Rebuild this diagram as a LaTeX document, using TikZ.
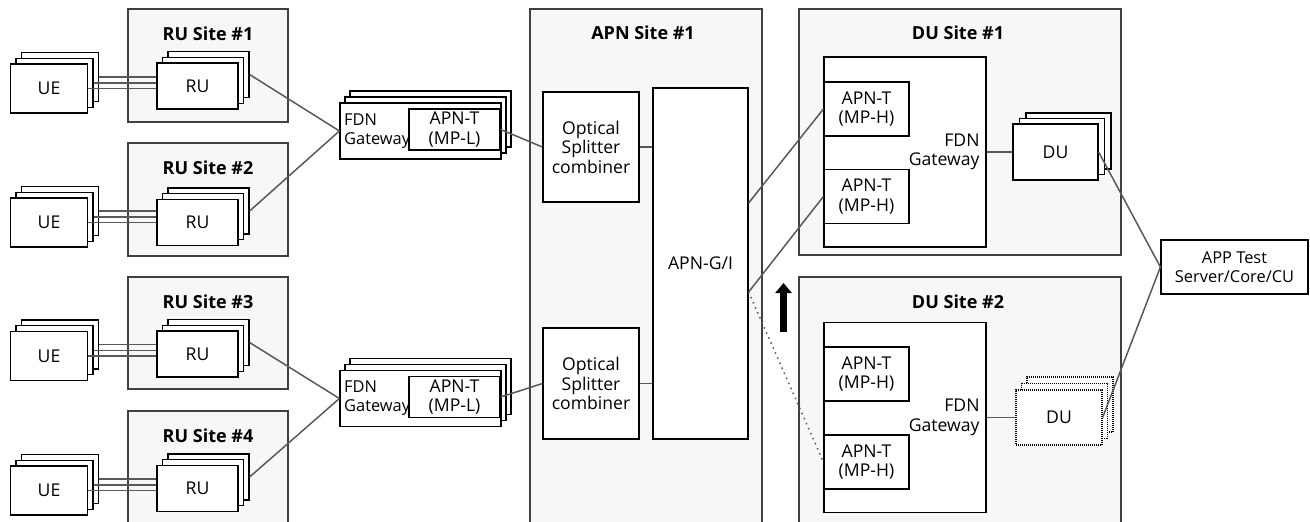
\documentclass[tikz,border=0pt]{standalone}
\usepackage{fontspec}
\setmainfont{Open Sans}
\usetikzlibrary{arrows.meta}

\begin{document}
\begin{tikzpicture}[x=0.5pt,y=-0.5pt,font=\fontsize{8.8}{9.8}\selectfont,
  site/.style={draw=black!75,fill=gray!6,line width=0.6pt},
  box/.style={draw,fill=white,line width=0.6pt,align=center,inner sep=0pt},
  dbox/.style={box,dash pattern=on 0.5pt off 0.5pt},
  ttl/.style={font=\fontsize{9}{10}\selectfont\bfseries},
  link/.style={draw=black!65,line width=0.75pt}]
  \clip (0,0) rectangle (1310,521);
  \foreach \i/\t/\b in {1/9/122,2/143/256,3/277/389,4/411/530} {
    \draw[site] (128,\t) rectangle (288,\b);
    \node[ttl] (rusite\i) at (208,\t+25) {RU Site \#\i};
  }
  \draw[site] (530,9) rectangle (762,530);
  \node[ttl] (apnsite) at (643,33) {APN Site \#1};
  \draw[site] (799,9) rectangle (1121,255);
  \node[ttl] (dusite1) at (958,33) {DU Site \#1};
  \draw[site] (799,277) rectangle (1121,530);
  \node[ttl] (dusite2) at (958,302) {DU Site \#2};

  \foreach \i/\y/\r in {1/88.5/86,2/222.5/222.5,3/356/354,4/490.5/488.5} {
    \node[box,minimum width=38.5pt,minimum height=24.5pt] (ue\i-c) at (60,\y-11.5) {};
    \node[box,minimum width=38.5pt,minimum height=24.5pt] (ue\i-b) at (54.5,\y-5.75) {};
    \node[box,minimum width=38.5pt,minimum height=24.5pt] (ue\i) at (49,\y) {UE};
    \node[box,minimum width=40.5pt,minimum height=23pt] (ru\i-c) at (208.5,\r-11.5) {};
    \node[box,minimum width=40.5pt,minimum height=23pt] (ru\i-b) at (203,\r-5.75) {};
    \node[box,minimum width=40.5pt,minimum height=23pt] (ru\i) at (197.5,\r) {RU};
    \foreach \l in {ue\i-c,ue\i-b,ue\i} \draw[link] (\l.east) -- (\l.east -| ru\i.west);
  }

  \foreach \i/\y in {1/131,2/398.5} {
    \node[box,minimum width=80.5pt,minimum height=28pt] (gw\i-c) at (430.5,\y-12) {};
    \node[box,minimum width=80.5pt,minimum height=28pt] (gw\i-b) at (425.5,\y-6) {};
    \node[box,minimum width=80.5pt,minimum height=28pt] (gw\i) at (420.5,\y) {};
    \node[anchor=west,align=left,inner sep=2.2pt,font=\fontsize{8.2}{9.6}\selectfont] (gwtext\i) at (gw\i.west) {FDN\\Gateway};
    \node[box,minimum width=45.5pt,minimum height=20.5pt] (mpl\i) at (454.5,\y-1.5) {APN-T\\(MP-L)};
  }
  \draw[link] (ru1-c.east) -- (gw1.west);
  \draw[link] (ru2-c.east) -- (gw1.west);
  \draw[link] (ru3-c.east) -- (gw2.west);
  \draw[link] (ru4-c.east) -- (gw2.west);

  \node[box,minimum width=48pt,minimum height=55pt] (spl1) at (591,147) {Optical\\Splitter\\combiner};
  \node[box,minimum width=48pt,minimum height=55.5pt] (spl2) at (591,383.5) {Optical\\Splitter\\combiner};
  \node[box,minimum width=47.5pt,minimum height=175.5pt] (apng) at (700.5,263.5) {APN-G/I};
  \draw[link] (mpl1.east) -- (spl1.west);
  \draw[link] (mpl2.east) -- (spl2.west);
  \draw[link] (spl1.east) -- (spl1.east -| apng.west);
  \draw[link] (spl2.east) -- (spl2.east -| apng.west);

  \foreach \i/\y in {1/152,2/417.5} {
    \node[box,minimum width=81pt,minimum height=95pt] (fdn\i) at (905,\y) {};
    \node[anchor=east,align=right] (fdntext\i) at (fdn\i.east) {FDN\\Gateway};
  }
  \foreach \i/\y in {1/109,2/196.5,3/374,4/462}
    \node[box,minimum width=42.5pt,minimum height=27pt] (mph\i) at (866.5,\y) {APN-T\\(MP-H)};

  \node[box,minimum width=42.5pt,minimum height=28pt] (du1-c) at (1068.5,141) {};
  \node[box,minimum width=42.5pt,minimum height=28pt] (du1-b) at (1062,146.5) {};
  \node[box,minimum width=42.5pt,minimum height=28pt] (du1) at (1055.5,152) {DU};
  \node[dbox,minimum width=43pt,minimum height=27.5pt] (du2-c) at (1070,404.5) {};
  \node[dbox,minimum width=43pt,minimum height=27.5pt] (du2-b) at (1064.5,411) {};
  \node[dbox,minimum width=43pt,minimum height=27.5pt] (du2) at (1059,417.5) {DU};
  \draw[link] (fdn1.east) -- (du1.west);
  \draw[link] (fdn2.east) -- (du2.west);

  \coordinate (g1) at ([yshift=30.25pt]apng.east);
  \coordinate (g2) at ([yshift=-14.25pt]apng.east);
  \draw[link] (g1) -- (mph1.west);
  \draw[link] (g2) -- (mph2.west);
  \draw[link,dotted] (g2) -- (mph4.west);

  \node[box,minimum width=73.5pt,minimum height=27pt,font=\fontsize{8.2}{9.8}\selectfont] (app) at (1234.5,267) {APP Test\\Server/Core/CU};
  \draw[link] (du1.east) -- (app.west);
  \draw[link] (du2.east) -- (app.west);

  \coordinate (up-s) at (783.5,332);
  \coordinate (up-e) at (783.5,283);
  \draw[line width=3.5pt,-{Triangle[width=8pt,length=5pt]}] (up-s) -- (up-e);
\end{tikzpicture}
\end{document}
